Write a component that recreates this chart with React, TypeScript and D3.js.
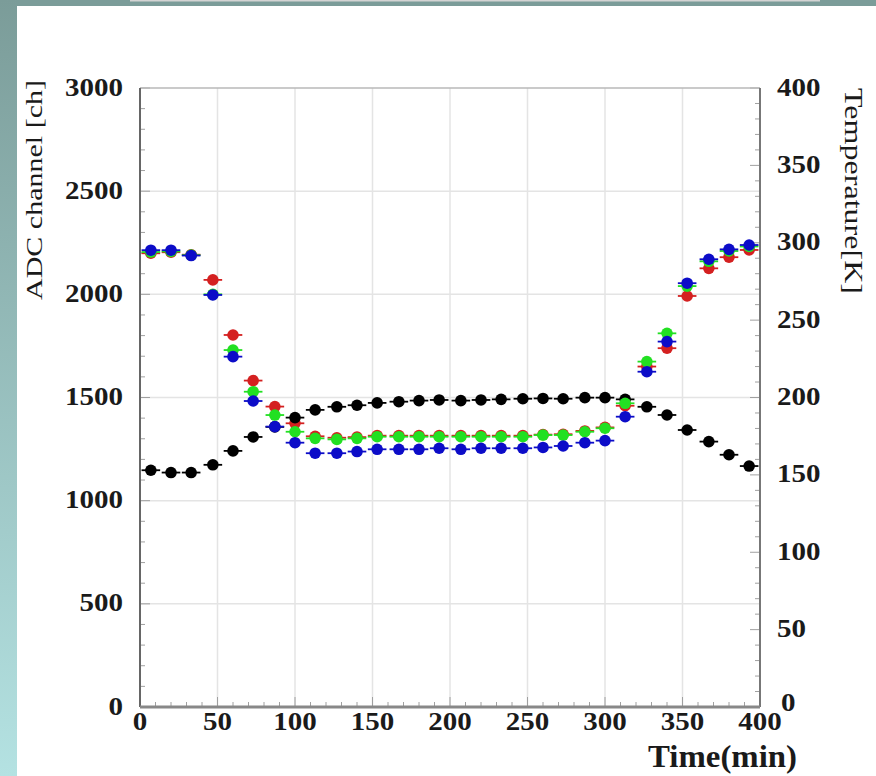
import React from 'react';
import * as d3 from 'd3';

// measurement times (min)
const times = [7, 20, 33, 47, 60, 73, 87, 100, 113, 127, 140, 153, 167, 180, 193, 207, 220, 233, 247, 260, 273, 287, 300, 313, 327, 340, 353, 367, 380, 393];

// ADC channel, three readouts
const adcRed = [2199, 2204, 2192, 2070, 1803, 1582, 1456, 1375, 1312, 1305, 1308, 1315, 1315, 1315, 1315, 1315, 1315, 1315, 1315, 1320, 1322, 1338, 1355, 1460, 1650, 1739, 1992, 2126, 2180, 2215];
const adcGreen = [2205, 2208, 2190, 2000, 1730, 1528, 1415, 1334, 1302, 1297, 1302, 1310, 1310, 1310, 1310, 1310, 1310, 1310, 1310, 1318, 1318, 1334, 1351, 1472, 1674, 1811, 2040, 2160, 2210, 2232];
const adcBlue = [2214, 2214, 2188, 1997, 1698, 1483, 1359, 1281, 1230, 1230, 1238, 1249, 1249, 1249, 1254, 1249, 1254, 1254, 1254, 1258, 1265, 1281, 1291, 1407, 1625, 1771, 2054, 2170, 2218, 2239];

// temperature (K), right axis
const temperature = [153, 151.5, 151.5, 156.5, 165.5, 174.5, 181, 187, 192, 194, 195, 196.5, 197.3, 198, 198.4, 198, 198.4, 198.8, 199.2, 199.4, 199.2, 199.9, 199.9, 198.8, 194, 188.7, 179, 171.5, 163, 155.7];

const xTicks = [0, 50, 100, 150, 200, 250, 300, 350, 400];
const adcTicks = [0, 500, 1000, 1500, 2000, 2500, 3000];
const tempTicks = [0, 50, 100, 150, 200, 250, 300, 350, 400];

const W = 876;
const H = 776;
const plot = { left: 140, right: 760, top: 88, bottom: 707 };
const FONT = 'Liberation Serif, Times New Roman, Times, serif';

const x = d3.scaleLinear().domain([0, 400]).range([plot.left, plot.right]);
const yAdc = d3.scaleLinear().domain([0, 3000]).range([plot.bottom, plot.top]);
const yTemp = d3.scaleLinear().domain([0, 400]).range([plot.bottom, plot.top]);

const xErr = 6;
const adcErr = 25;

type Pt = { t: number; v: number };

const Series = ({ values, y, color, yErr }: { values: number[]; y: d3.ScaleLinear<number, number>; color: string; yErr: number }) => {
  const pts: Pt[] = values.map((v, i) => ({ t: times[i], v }));
  return (
    <g>
      {pts.map((d, i) => (
        <g key={i}>
          <line x1={x(d.t - xErr)} x2={x(d.t + xErr)} y1={y(d.v)} y2={y(d.v)} stroke={color} strokeWidth={1.8} />
          {yErr > 0 && (
            <line x1={x(d.t)} x2={x(d.t)} y1={y(d.v - yErr)} y2={y(d.v + yErr)} stroke={color} strokeWidth={1} opacity={0.6} />
          )}
          <circle cx={x(d.t)} cy={y(d.v)} r={5.8} fill={color} />
        </g>
      ))}
    </g>
  );
};

export default function App() {
  const xMinor = d3.range(0, 401, 10);
  const adcMinor = d3.range(0, 3001, 100);
  const tempMinor = d3.range(0, 401, 10);

  return (
    <svg width={W} height={H} style={{ position: 'absolute', left: 0, top: 0, background: '#fff' }} fontFamily={FONT}>
      <defs>
        <linearGradient id="sideGrad" x1="0" y1="0" x2="0" y2="1">
          <stop offset="0" stopColor="#7b9c99" />
          <stop offset="1" stopColor="#b4e2e2" />
        </linearGradient>
      </defs>

      {/* slide background */}
      <rect x={0} y={0} width={W} height={H} fill="#fff" />
      <rect x={0} y={0} width={W} height={6} fill="#7b9c99" />
      <rect x={130} y={0} width={690} height={1.5} fill="#d4d4d4" />
      <rect x={0} y={0} width={17} height={H} fill="url(#sideGrad)" />

      {/* grid */}
      <g stroke="#e4e4e4" strokeWidth={1.5}>
        {xTicks.slice(1, -1).map(t => (
          <line key={'gx' + t} x1={x(t)} x2={x(t)} y1={plot.top} y2={plot.bottom} />
        ))}
        {adcTicks.slice(1, -1).map(t => (
          <line key={'gy' + t} x1={plot.left} x2={plot.right} y1={yAdc(t)} y2={yAdc(t)} />
        ))}
      </g>

      {/* ticks */}
      <g stroke="#a0a0a0" strokeWidth={1}>
        {xMinor.map(t => (
          <line key={'xm' + t} x1={x(t)} x2={x(t)} y1={plot.bottom} y2={plot.bottom - (t % 50 === 0 ? 10 : 5)} />
        ))}
        {adcMinor.map(t => (
          <line key={'am' + t} x1={plot.left} x2={plot.left + (t % 500 === 0 ? 10 : 5)} y1={yAdc(t)} y2={yAdc(t)} />
        ))}
        {tempMinor.map(t => (
          <line key={'tm' + t} x1={plot.right} x2={plot.right - (t % 50 === 0 ? 10 : 5)} y1={yTemp(t)} y2={yTemp(t)} />
        ))}
      </g>

      {/* frame */}
      <line x1={plot.left} x2={plot.right} y1={plot.top} y2={plot.top} stroke="#b8b8b8" strokeWidth={1.5} />
      <line x1={plot.right} x2={plot.right} y1={plot.top} y2={plot.bottom} stroke="#777" strokeWidth={2} />
      <line x1={plot.left} x2={plot.left} y1={plot.top} y2={plot.bottom} stroke="#666" strokeWidth={2} />
      <line x1={plot.left} x2={plot.right} y1={plot.bottom} y2={plot.bottom} stroke="#888" strokeWidth={3} />

      {/* data */}
      <Series values={adcRed} y={yAdc} color="#d42020" yErr={adcErr} />
      <Series values={temperature} y={yTemp} color="#000" yErr={0} />
      <Series values={adcGreen} y={yAdc} color="#22e022" yErr={adcErr} />
      <Series values={adcBlue} y={yAdc} color="#0c0cc8" yErr={adcErr} />

      {/* tick labels */}
      <g fontWeight="bold" fontSize={25} fill="#1a1a1a">
        {adcTicks.map(t => (
          <text key={'al' + t} x={123} y={yAdc(t) - 1} textAnchor="end" dominantBaseline="central"
            textLength={String(t).length * 14.5} lengthAdjust="spacingAndGlyphs">{t}</text>
        ))}
        {tempTicks.map(t => (
          <text key={'tl' + t} x={t === 0 ? 781 : 777} y={yTemp(t) - (t === 0 ? 5 : 1)} textAnchor="start" dominantBaseline="central"
            textLength={String(t).length * 14.5} lengthAdjust="spacingAndGlyphs">{t}</text>
        ))}
        {xTicks.map(t => (
          <text key={'xl' + t} x={x(t)} y={721} textAnchor="middle" dominantBaseline="central"
            textLength={String(t).length * 14.5} lengthAdjust="spacingAndGlyphs">{t}</text>
        ))}
      </g>

      {/* axis titles */}
      <text transform="translate(42,190) rotate(-90)" textAnchor="middle" fontSize={24} fill="#1a1a1a"
        textLength={220} lengthAdjust="spacingAndGlyphs">ADC channel [ch]</text>
      <text transform="translate(845,191) rotate(90)" textAnchor="middle" fontSize={25} fill="#1a1a1a"
        textLength={206} lengthAdjust="spacingAndGlyphs">Temperature[K]</text>
      <text x={797} y={767} textAnchor="end" fontSize={32} fontWeight="bold" fill="#1a1a1a"
        textLength={149} lengthAdjust="spacingAndGlyphs">Time(min)</text>
    </svg>
  );
}
